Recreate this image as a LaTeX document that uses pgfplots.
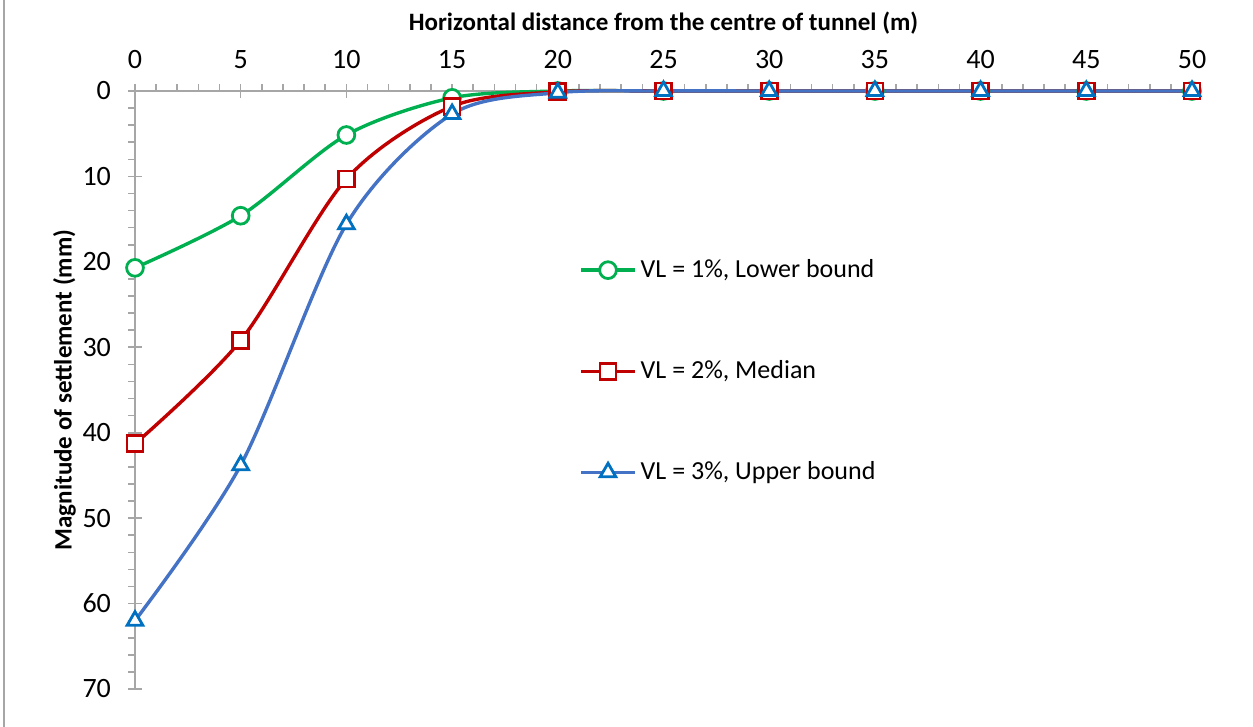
\documentclass[border=0pt]{standalone}
\usepackage{fontspec}
\setmainfont{Carlito}
\usepackage{pgfplots}
\pgfplotsset{compat=1.18}
\definecolor{cgreen}{HTML}{00B050}
\definecolor{cred}{HTML}{C00000}
\definecolor{cblue}{HTML}{4472C4}
\definecolor{cbluem}{HTML}{0070C0}
\definecolor{caxis}{HTML}{A6A6A6}

\begin{document}
\begin{tikzpicture}
\path[use as bounding box] (-67.5pt,-19pt) rectangle (559pt,344.5pt);
\draw[gray!70, line width=1pt] (-65.5pt,-19pt) -- (-65.5pt,344.5pt);
\begin{axis}[
    scale only axis,
    width=528.5pt, height=299pt,
    at={(0,0)}, anchor=south west,
    xmin=0, xmax=50, ymin=0, ymax=70,
    y dir=reverse,
    axis x line=top, axis y line=left,
    axis line style={-, caxis, line width=1pt},
    xtick={0,5,...,50}, ytick={0,10,...,70},
    minor x tick num=4, minor y tick num=4,
    tick align=outside,
    major tick length=3.5pt, minor tick length=3.5pt,
    tick style={caxis, line width=0.8pt},
    extra x ticks={0,5,...,50}, extra y ticks={0,10,...,70},
    extra x tick labels={}, extra y tick labels={},
    extra tick style={tick align=inside, major tick length=3.5pt},
    clip=false,
    ticklabel style={font=\fontsize{14}{16}\selectfont},
    xticklabel style={yshift=4pt},
    yticklabel style={xshift=-5pt},
    /pgf/number format/assume math mode=true,
    xlabel={\textbf{Horizontal distance from the centre of tunnel (m)}},
    ylabel={\textbf{Magnitude of settlement (mm)}},
    xlabel style={yshift=-2pt},
    ylabel style={yshift=-7pt},
    label style={font=\fontsize{12.5}{15}\selectfont},
    legend style={draw=none, fill=none, at={(axis cs:21,32.8)}, anchor=west,
        font=\fontsize{13}{15}\selectfont, row sep=36pt, inner sep=0pt},
    legend cell align=left,
    legend image code/.code={\draw[mark repeat=2,mark phase=2] plot coordinates {(0pt,0pt) (13.5pt,0pt) (27pt,0pt)};},
]
\addplot[cgreen, line width=1.7pt, smooth, mark=*, mark size=4.2pt,
    mark options={fill=white, line width=1.4pt}] coordinates {
    (0,20.7) (5,14.6) (10,5.15) (15,0.8) (20,0) (25,0) (30,0) (35,0) (40,0) (45,0) (50,0)
};
\addlegendentry{VL = 1\%, Lower bound}
\addplot[cred, line width=1.7pt, smooth, mark=square*, mark size=4pt,
    mark options={fill=white, line width=1.4pt}] coordinates {
    (0,41.3) (5,29.2) (10,10.3) (15,1.8) (20,0.1) (25,0) (30,0) (35,0) (40,0) (45,0) (50,0)
};
\addlegendentry{VL = 2\%, Median}
\addplot[cblue, line width=1.7pt, smooth, mark=triangle*, mark size=4.5pt,
    mark options={draw=cbluem, fill=white, line width=1.4pt}] coordinates {
    (0,62.0) (5,43.8) (10,15.6) (15,2.7) (20,0.2) (25,0) (30,0) (35,0) (40,0) (45,0) (50,0)
};
\addlegendentry{VL = 3\%, Upper bound}
\end{axis}
\end{tikzpicture}
\end{document}
